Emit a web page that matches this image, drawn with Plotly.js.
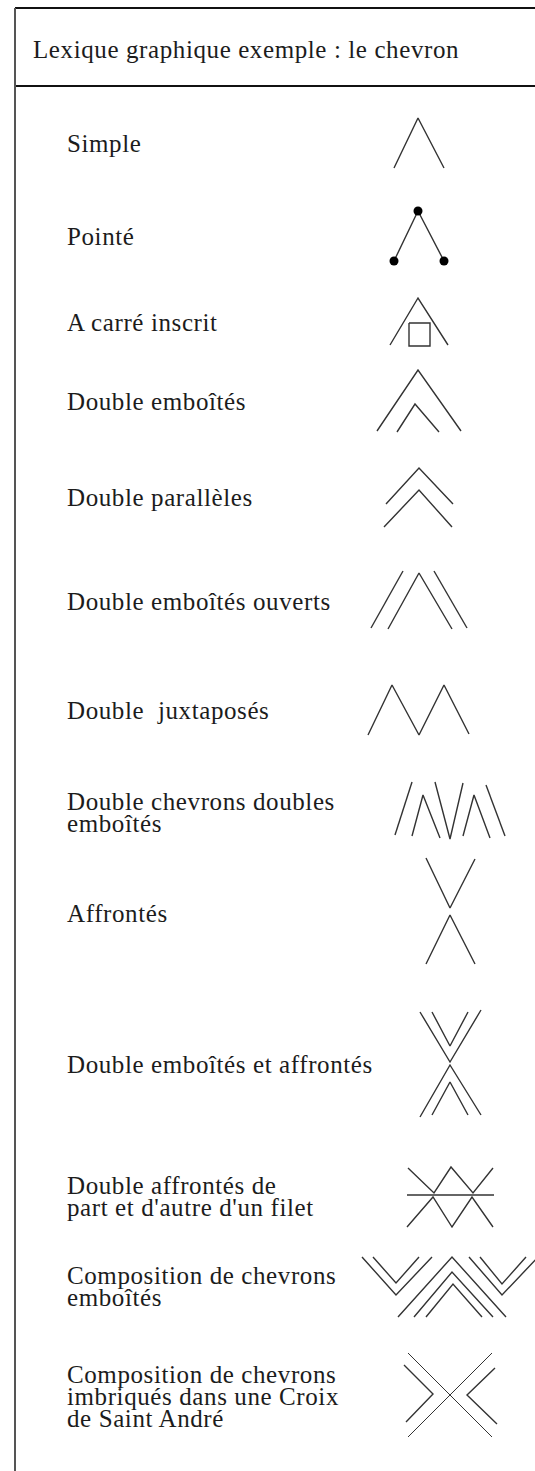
<!DOCTYPE html>
<html>
<head>
<meta charset="utf-8">
<script src="https://cdn.plot.ly/plotly-3.0.1.min.js"></script>
<style>
html,body{margin:0;padding:0;background:#fff;}
#chart{width:535px;height:1471px;}
#chart .annotation-text{letter-spacing:0.6px;}
</style>
</head>
<body>
<div id="chart"></div>
<script>
// ---- Data ----
const chartTitle = "Lexique graphique exemple : le chevron";

const rowLabels = [
  ["Simple"],
  ["Pointé"],
  ["A carré inscrit"],
  ["Double emboîtés"],
  ["Double parallèles"],
  ["Double emboîtés ouverts"],
  ["Double\u00a0 juxtaposés"],
  ["Double chevrons doubles", "emboîtés"],
  ["Affrontés"],
  ["Double emboîtés et affrontés"],
  ["Double affrontés de", "part et d'autre d'un filet"],
  ["Composition de chevrons", "emboîtés"],
  ["Composition de chevrons", "imbriqués dans une Croix", "de Saint André"]
];

// glyph polylines, as offsets from each glyph's centre
const glyphSimple   = [[[-25,25],[-1,-25],[25,25]]];
const glyphPointe   = [[[-25,25],[-1,-25],[25,25]]];
const glyphCarre    = [[[-29,23],[-1,-24],[29,23]], [[-10,1],[11,1],[11,24],[-10,24],[-10,1]]];
const glyphEmboites = [[[-42,30],[-1,-31],[42,30]], [[-22,31],[-4,3],[20,31]]];
const glyphParall   = [[[-33,7],[0,-29],[34,7]], [[-35,30],[0,-7],[33,30]]];
const glyphOuverts  = [[[-31,29],[0,-27],[33,29]], [[-16,-29],[-48,28]], [[15,-29],[48,28]]];
const glyphJuxta    = [[[-51,25],[-27,-25],[0,25],[25,-25],[50,24]]];
const glyphDoubles  = [[[-38,-28],[-55,25]], [[-38,26],[-27,-15],[-10,28]], [[-15,-28],[0,29],[13,-27]],
                       [[13,26],[24,-15],[40,28]], [[36,-25],[55,26]]];
const glyphAffr     = [[[-24,-53],[0,-3],[25,-52]], [[-24,53],[0,4],[25,53]]];
const glyphEmbAffr  = [[[-30,-51],[0,-1],[31,-53]], [[-18,-51],[0,-17],[18,-51]],
                       [[-30,54],[0,2],[31,52]], [[-18,52],[0,19],[18,52]]];
const glyphFilet    = [[[-42,-28],[-16,-3],[1,-29],[23,-3],[43,-28]], [[-43,-1],[44,-1]],
                       [[-43,31],[-17,1],[2,31],[22,1],[43,31]]];
const glyphCompo    = [[[-88,-30],[-54,8],[-18,-30]], [[-77,-30],[-54,-4],[-31,-30]],
                       [[-52,30],[2,-30],[56,30]], [[-36,30],[2,-15],[43,30]], [[-24,30],[3,-3],[32,30]],
                       [[19,-30],[52,8],[90,-32]], [[30,-30],[52,-3],[76,-30]]];
const glyphCroixChev = [[[-46,-30],[-17,-1],[-44,27]], [[45,-27],[17,0],[47,29]]];
const glyphCroixX    = [[[-42,-42],[42,42]], [[42,-42],[-42,42]]];

const glyphs = [glyphSimple, glyphPointe, glyphCarre, glyphEmboites, glyphParall, glyphOuverts,
  glyphJuxta, glyphDoubles, glyphAffr, glyphEmbAffr, glyphFilet, glyphCompo, glyphCroixChev];

// ---- Layout (positions in reference pixels) ----
const W = 535, H = 1471;
const titleX = 31, titleY = 49;
const labelX = 65, lineGap = 22;
const labelCenterY = [143, 236, 322, 401, 497, 601, 710, 812, 913, 1064, 1196.5, 1286, 1396];
const glyphCenter = [[419,143],[419,236],[419,322],[419,401],[419,497],[419,600],[419,710],
  [450,810],[450,911],[450,1063],[450,1196],[450,1287],[450,1395]];

const serif = "'Liberation Serif', 'Times New Roman', serif";
const ink = "#1c1c1c";
const strokeCol = "#333333";

function polyTrace(polys, c, width) {
  const x = [], y = [];
  polys.forEach(p => { p.forEach(v => { x.push(c[0] + v[0]); y.push(c[1] + v[1]); }); x.push(null); y.push(null); });
  return {type: "scatter", mode: "lines", x, y, hoverinfo: "skip",
          line: {color: strokeCol, width: width}, connectgaps: false};
}

const traces = [];
glyphs.forEach((g, i) => traces.push(polyTrace(g, glyphCenter[i], 1.4)));
traces.push(polyTrace(glyphCroixX, glyphCenter[12], 1.0));
// dots of "Pointé"
traces.push({type: "scatter", mode: "markers", hoverinfo: "skip",
  x: glyphPointe[0].map(v => glyphCenter[1][0] + v[0]),
  y: glyphPointe[0].map(v => glyphCenter[1][1] + v[1]),
  marker: {color: "#000", size: 9}});

const annotations = [{
  x: titleX, y: titleY, xref: "x", yref: "y", xanchor: "left", yanchor: "middle", align: "left",
  showarrow: false, text: chartTitle, font: {family: serif, size: 25, color: ink}
}];
rowLabels.forEach((lines, i) => {
  lines.forEach((t, j) => {
    annotations.push({
      x: labelX, y: labelCenterY[i] + (j - (lines.length - 1) / 2) * lineGap,
      xref: "x", yref: "y", xanchor: "left", yanchor: "middle", align: "left", showarrow: false,
      text: t, font: {family: serif, size: 25, color: ink}
    });
  });
});

const shapes = [
  {type: "line", xref: "x", yref: "y", x0: 15, x1: W, y0: 8, y1: 8, line: {color: "#111", width: 2}},
  {type: "line", xref: "x", yref: "y", x0: 15, x1: W, y0: 86, y1: 86, line: {color: "#111", width: 2}},
  {type: "line", xref: "x", yref: "y", x0: 15, x1: 15, y0: 8, y1: H, line: {color: "#555", width: 2}}
];

const layout = {
  width: W, height: H,
  margin: {l: 0, r: 0, t: 0, b: 0, pad: 0},
  paper_bgcolor: "#fff", plot_bgcolor: "#fff",
  showlegend: false,
  xaxis: {range: [0, W], visible: false, fixedrange: true},
  yaxis: {range: [H, 0], visible: false, fixedrange: true},
  annotations, shapes
};

Plotly.newPlot("chart", traces, layout, {displayModeBar: false, staticPlot: true});
</script>
</body>
</html>
